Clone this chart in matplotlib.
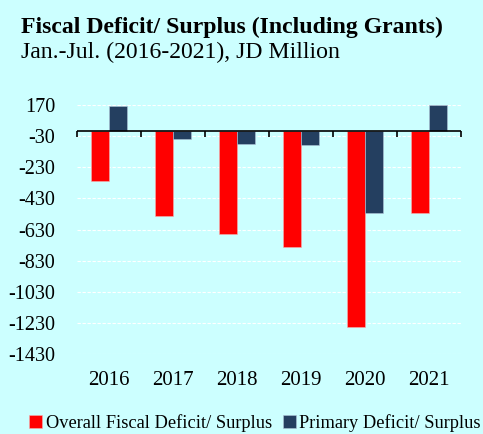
import numpy as np
import matplotlib.pyplot as plt

years = ['2016', '2017', '2018', '2019', '2020', '2021']
overall = [-317, -544, -661, -740, -1253, -524]
primary = [163, -52, -80, -86, -524, 170]
yticks = [170, -30, -230, -430, -630, -830, -1030, -1230, -1430]

bg = '#CCFFFF'
red = '#FF0000'
navy = '#243F60'

plt.rcParams['font.family'] = ['Liberation Serif', 'DejaVu Serif']
plt.rcParams['axes.unicode_minus'] = False

fig = plt.figure(figsize=(4.83, 4.34), dpi=100)
fig.patch.set_facecolor(bg)
ax = fig.add_axes([0.160, 0.1836, 0.794, 0.5751])
ax.set_facecolor(bg)

x = np.arange(len(years))
w = 0.28
ax.bar(x - w / 2, overall, w, color=red, edgecolor='#F4B0B0', linewidth=0.4,
       label='Overall Fiscal Deficit/ Surplus', zorder=3)
ax.bar(x + w / 2, primary, w, color=navy, edgecolor='#B0C4D8', linewidth=0.4,
       label='Primary Deficit/ Surplus', zorder=3)

ax.set_xlim(-0.5, len(years) - 0.5)
ax.set_ylim(-1430, 170)
ax.set_yticks(yticks)
ax.set_xticks(x)
ax.set_xticklabels(years)
ax.tick_params(axis='both', length=0)
ax.tick_params(axis='x', pad=12, labelsize=15)
ax.tick_params(axis='y', pad=16, labelsize=14.5)
ax.grid(axis='y', color='white', linestyle=(0, (3, 1.5)), linewidth=0.8, zorder=0)
for s in ax.spines.values():
    s.set_visible(False)

# zero line with category tick marks
ax.axhline(0, color='black', linewidth=1.2, zorder=4)
bounds = np.arange(len(years) + 1) - 0.5
ax.vlines(bounds, -38, 0, color='black', linewidth=1.2, zorder=4, clip_on=False)

fig.text(0.043, 0.923, 'Fiscal Deficit/ Surplus (Including Grants)',
         fontsize=17.1, fontweight='bold', va='baseline')
fig.text(0.043, 0.866, 'Jan.-Jul. (2016-2021), JD Million',
         fontsize=17.1, va='baseline')

fig.legend(loc='center', bbox_to_anchor=(0.528, 0.026), ncol=2, frameon=False,
           fontsize=13.2, handlelength=0.7, handleheight=0.7, handletextpad=0.2,
           columnspacing=0.6, borderaxespad=0)

fig.savefig('out.png', dpi=100, facecolor=bg)
